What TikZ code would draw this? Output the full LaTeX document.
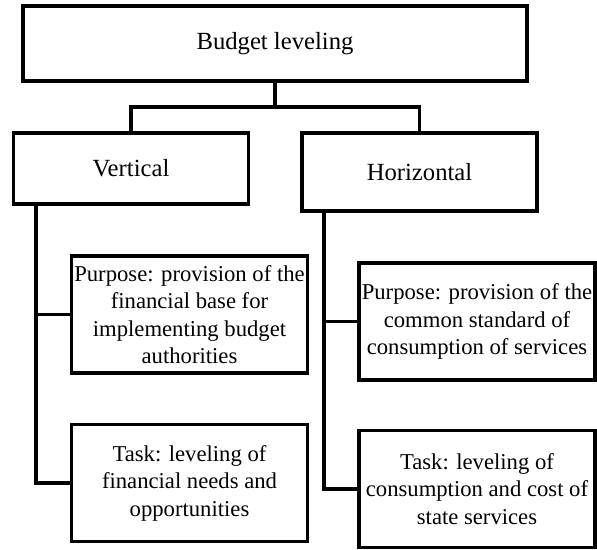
\documentclass[tikz,border=0pt]{standalone}
\usepackage{fontspec}
\setmainfont{Liberation Serif}
\tikzset{>=stealth}
\tikzset{
  box/.style={draw, line width=2.5pt, align=center, inner sep=0pt},
  headbox/.style={box, font=\fontsize{18.5}{22}\selectfont},
  infobox/.style={box, font=\fontsize{17}{20.6}\selectfont, minimum width=236pt*0.75, minimum height=117pt*0.75},
  link/.style={line width=2.5pt}
}

\begin{document}
\begin{tikzpicture}[x=0.75pt, y=-0.75pt]
\useasboundingbox (0,0) rectangle (597,550);
\node[headbox, minimum width=504*0.75pt, minimum height=75*0.75pt] (top) at (275,43.5) {Budget leveling};
\node[headbox, minimum width=235*0.75pt, minimum height=71*0.75pt] (vert) at (131,168.5) {Vertical};
\node[headbox, minimum width=235*0.75pt, minimum height=78*0.75pt] (horiz) at (419.5,172) {Horizontal};
\node[infobox] (lpurp) at (189.5,314.5) {Purpose: provision of the\\financial base for\\implementing budget\\authorities};
\node[infobox] (ltask) at (189.5,483) {Task: leveling of\\financial needs and\\opportunities};
\node[infobox] (rpurp) at (477,321.5) {Purpose: provision of the\\common standard of\\consumption of services};
\node[infobox] (rtask) at (477,489) {Task: leveling of\\consumption and cost of\\state services};
\coordinate (split) at (275,107);
\coordinate (lbar) at (36,0);
\coordinate (rbar) at (324,0);
\draw[link] (top) -- (split) -| (vert);
\draw[link] (split) -| (horiz);
\draw[link] (vert.south -| lbar) |- (lpurp);
\draw[link] (vert.south -| lbar) |- (ltask);
\draw[link] (horiz.south -| rbar) |- (rpurp);
\draw[link] (horiz.south -| rbar) |- (rtask);
\end{tikzpicture}
\end{document}
